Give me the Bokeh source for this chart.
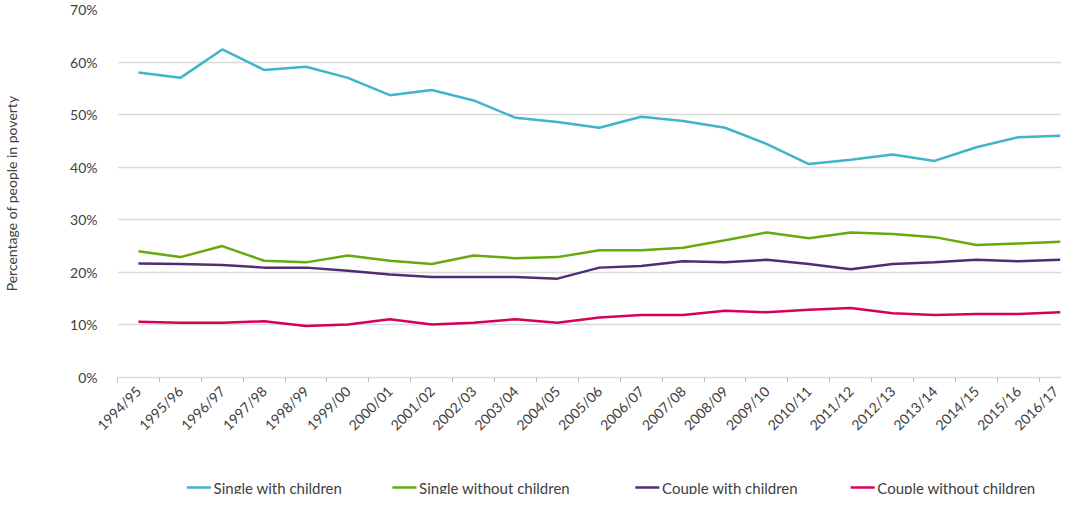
from math import pi

from bokeh.plotting import figure
from bokeh.layouts import column
from bokeh.models import Range1d, FixedTicker, PrintfTickFormatter
from bokeh.core.properties import value
from bokeh.embed import file_html
from bokeh.resources import INLINE

years = ["1994/95", "1995/96", "1996/97", "1997/98", "1998/99", "1999/00",
         "2000/01", "2001/02", "2002/03", "2003/04", "2004/05", "2005/06",
         "2006/07", "2007/08", "2008/09", "2009/10", "2010/11", "2011/12",
         "2012/13", "2013/14", "2014/15", "2015/16", "2016/17"]

single_with_children = [58.0, 57.0, 62.4, 58.5, 59.1, 57.0, 53.7, 54.7, 52.7,
                        49.4, 48.6, 47.5, 49.6, 48.8, 47.5, 44.4, 40.6, 41.4,
                        42.4, 41.2, 43.8, 45.7, 46.0]
single_without_children = [24.0, 22.9, 25.0, 22.2, 21.9, 23.2, 22.2, 21.6, 23.2,
                           22.7, 22.9, 24.2, 24.2, 24.7, 26.1, 27.6, 26.5, 27.6,
                           27.3, 26.7, 25.2, 25.5, 25.8]
couple_with_children = [21.7, 21.6, 21.4, 20.9, 20.9, 20.3, 19.6, 19.1, 19.1,
                        19.1, 18.8, 20.9, 21.2, 22.1, 21.9, 22.4, 21.6, 20.6,
                        21.6, 21.9, 22.4, 22.1, 22.4]
couple_without_children = [10.6, 10.4, 10.4, 10.7, 9.8, 10.1, 11.1, 10.1, 10.4,
                           11.1, 10.4, 11.4, 11.9, 11.9, 12.7, 12.4, 12.9, 13.2,
                           12.2, 11.9, 12.1, 12.1, 12.4]

names = ["Single with children", "Single without children",
         "Couple with children", "Couple without children"]
colors = ["#40b4c8", "#66aa10", "#4f2d72", "#d5005a"]
values = [single_with_children, single_without_children,
          couple_with_children, couple_without_children]

FONT = "Lato"
TEXT = "#404040"

x = list(range(len(years)))

p = figure(width=1061, height=442, output_backend="svg", toolbar_location=None,
           x_range=Range1d(-0.5, 22.03), y_range=Range1d(0, 70),
           min_border_left=112, min_border_right=0, min_border_top=9)
p.outline_line_color = None

for vals, color in zip(values, colors):
    p.line(x, vals, line_width=2.5, color=color)

# y axis
p.yaxis.ticker = FixedTicker(ticks=list(range(0, 71, 10)))
p.yaxis.formatter = PrintfTickFormatter(format="%d%%")
p.yaxis.axis_line_color = None
p.yaxis.major_tick_line_color = None
p.yaxis.minor_tick_line_color = None
p.yaxis.major_label_standoff = 14
p.yaxis.major_label_text_font = FONT
p.yaxis.major_label_text_font_size = "14px"
p.yaxis.major_label_text_color = TEXT
p.yaxis.axis_label = "Percentage of people in poverty"
p.yaxis.axis_label_standoff = 47
p.yaxis.axis_label_text_font = FONT
p.yaxis.axis_label_text_font_size = "14px"
p.yaxis.axis_label_text_font_style = "normal"
p.yaxis.axis_label_text_color = TEXT

# x axis: labels at categories, tick marks between them
p.xaxis.ticker = FixedTicker(ticks=x, minor_ticks=[i - 0.5 for i in range(len(years) + 1)])
p.xaxis.major_label_overrides = {i: y for i, y in enumerate(years)}
p.xaxis.major_label_orientation = pi / 4
p.xaxis.major_tick_line_color = None
p.xaxis.major_tick_out = 0
p.xaxis.minor_tick_line_color = "#bfbfbf"
p.xaxis.minor_tick_in = 0
p.xaxis.minor_tick_out = 5
p.xaxis.axis_line_color = "#d9d9d9"
p.xaxis.axis_line_width = 1.5
p.xaxis.major_label_standoff = 6
p.xaxis.major_label_text_font = FONT
p.xaxis.major_label_text_font_size = "14px"
p.xaxis.major_label_text_color = TEXT

p.xgrid.grid_line_color = None
p.ygrid.grid_line_color = "#d9d9d9"
p.ygrid.grid_line_width = 1.5

# legend drawn as its own strip (Legend annotations collapsed this layout)
key_x = [78, 309, 582, 824]
key_y = [7] * 4
lg = figure(width=1061, height=52, output_backend="svg", toolbar_location=None,
            x_range=Range1d(0, 1061), y_range=Range1d(0, 52),
            x_axis_location=None, y_axis_location=None, min_border=0)
lg.outline_line_color = None
lg.xgrid.visible = False
lg.ygrid.visible = False
lg.segment(x0=key_x, y0=key_y, x1=[k + 27 for k in key_x], y1=key_y,
           color=colors, line_width=2.5)
lg.text(x=[k + 30 for k in key_x], y=key_y, text=names,
        text_font=value(FONT), text_font_size="15px", text_baseline="middle",
        text_color=TEXT)

open("out.html", "w").write(file_html(column(p, lg), INLINE))
